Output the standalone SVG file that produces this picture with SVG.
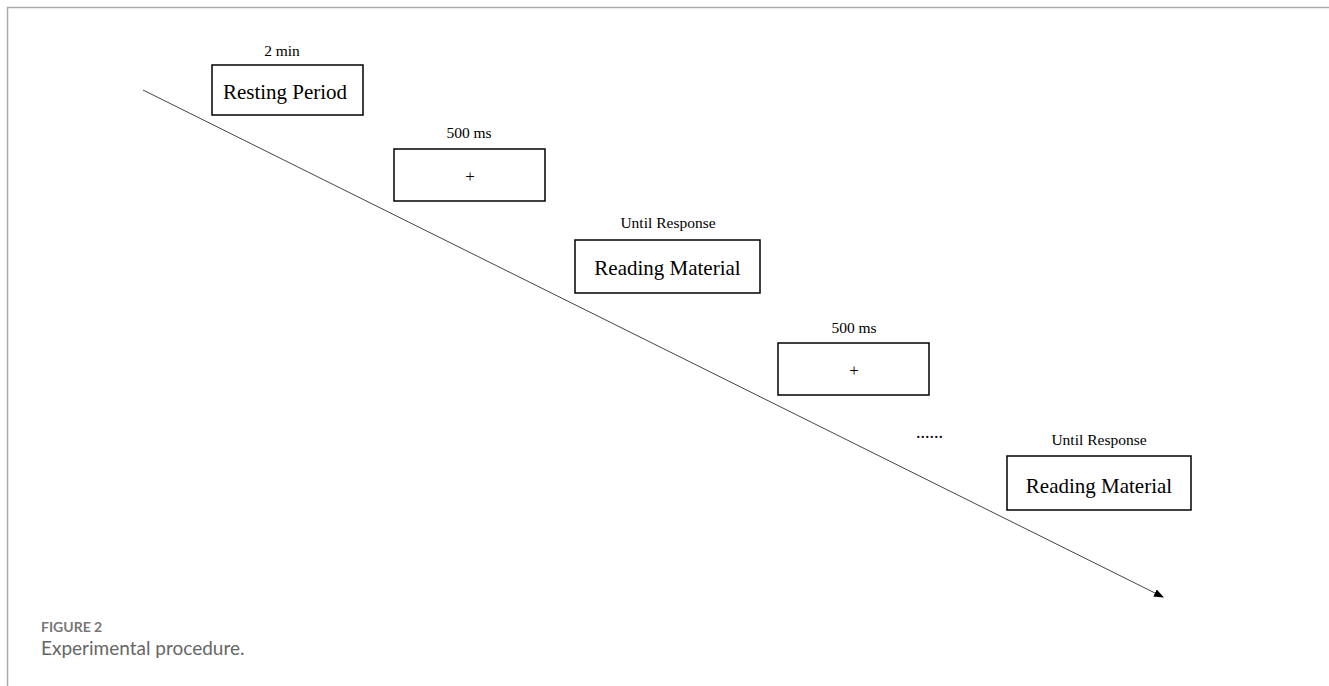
<svg xmlns="http://www.w3.org/2000/svg" width="1329" height="686" viewBox="0 0 1329 686">
<defs>
<style>
.box{fill:#fff;stroke:#000;stroke-width:1.5}
.lbl{font-family:"Liberation Serif",serif;font-size:15.5px;fill:#000;text-anchor:middle}
.main{font-family:"Liberation Serif",serif;font-size:21px;fill:#000;text-anchor:middle}
.plus{font-family:"Liberation Serif",serif;font-size:17px;fill:#000;text-anchor:middle}
</style>
<marker id="arr" markerWidth="10" markerHeight="8" refX="9" refY="4" orient="auto" markerUnits="userSpaceOnUse">
<path d="M0,0 L10,4 L0,8 Z" fill="#000"/>
</marker>
</defs>
<rect width="1329" height="686" fill="#fff"/>
<path d="M7.5,686 L7.5,7.5 L1329,7.5" fill="none" stroke="#aaa" stroke-width="1.5"/>
<g id="connectors">
<line x1="143" y1="90" x2="1163" y2="597" stroke="#444" stroke-width="1" marker-end="url(#arr)"/>
</g>
<g id="node1">
<text class="lbl" x="282" y="56">2 min</text>
<rect class="box" x="212" y="65" width="151" height="50"/>
<text class="main" x="285" y="99">Resting Period</text>
</g>
<g id="node2">
<text class="lbl" x="469" y="138">500 ms</text>
<rect class="box" x="394" y="149" width="151" height="52"/>
<text class="plus" x="470" y="182">+</text>
</g>
<g id="node3">
<text class="lbl" x="668" y="228">Until Response</text>
<rect class="box" x="575" y="240" width="185" height="53"/>
<text class="main" x="667.5" y="275">Reading Material</text>
</g>
<g id="node4">
<text class="lbl" x="854" y="333">500 ms</text>
<rect class="box" x="778" y="343" width="151" height="52"/>
<text class="plus" x="854" y="376">+</text>
</g>
<g id="dots">
<text x="916" y="438" font-family="Liberation Serif,serif" font-size="18" fill="#000">......</text>
</g>
<g id="node5">
<text class="lbl" x="1099" y="445">Until Response</text>
<rect class="box" x="1007" y="456" width="184" height="54"/>
<text class="main" x="1099" y="493">Reading Material</text>
</g>
<g id="caption">
<text x="41" y="632" font-family="Lato,sans-serif" font-size="14" font-weight="bold" fill="#777">FIGURE 2</text>
<text x="41" y="655" font-family="Lato,sans-serif" font-size="19" fill="#666">Experimental procedure.</text>
</g>
</svg>
